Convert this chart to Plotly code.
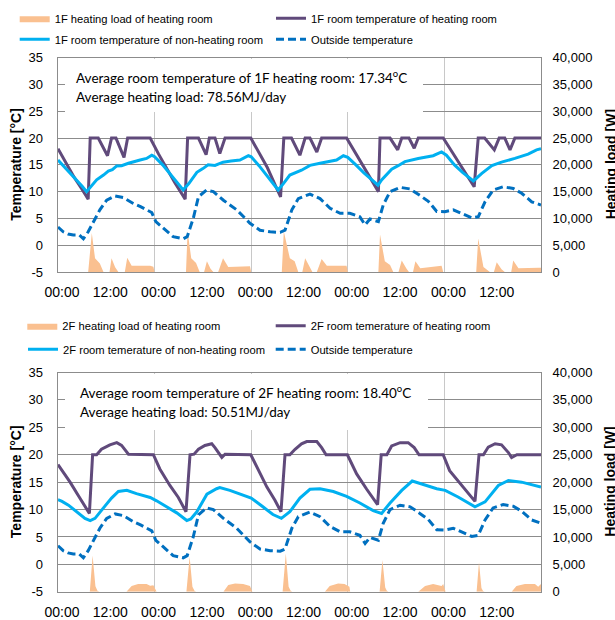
import plotly.graph_objects as go

W, H = 615, 620

def fx(px):
    return px / W

def fy(py):
    return 1 - py / H

# ---------------- data ----------------
tick_hours = [1, 13, 25, 37, 49, 61, 73, 85, 97, 109]
tick_text = ["00:00", "12:00", "00:00", "12:00", "00:00", "12:00", "00:00", "12:00", "00:00", "12:00"]
day_bounds = [24, 48, 72, 96]
temp_ticks = [-5, 0, 5, 10, 15, 20, 25, 30, 35]
temp_tick_text = ["-5", "0", "5", "10", "15", "20", "25", "30", "35"]

# Outside temperature (same for both floors)
out_h = [0, 1.3, 2.5, 3.8, 5.3, 6.3, 7.5, 8.8, 10.4, 12.1, 14.2, 16.2, 18.7, 20.5, 22, 23.3,
         24.3, 26.2, 28.6, 31.1, 32.1, 33.6, 34.9, 36.9, 38.6, 41.1, 44.4, 47.7, 50.2, 52.7,
         55.2, 56.4, 58.1, 59.7, 62.6, 65.1, 67.6, 70.1, 72.5, 75, 76.3, 77.5, 79.6, 80.8,
         82.5, 85, 87.5, 89.9, 92, 94.1, 96.1, 98.2, 100.3, 102.8, 104.4, 106.1, 108.1,
         110.6, 113.1, 115.2, 117.7, 120]
out_t = [3.4, 2.5, 2.1, 1.9, 1.9, 1.2, 2.5, 4.4, 6.6, 8.4, 9.2, 8.9, 7.8, 7.2, 6.6, 6.1,
         4.4, 3.15, 1.6, 1.2, 1.6, 5.0, 9.05, 10.3, 10.0, 8.4, 6.6, 4.1, 2.8, 2.5,
         2.4, 2.8, 6.6, 8.7, 9.55, 8.7, 6.9, 5.95, 5.95, 5.3, 3.8, 4.9, 4.4, 7.5,
         10.0, 10.8, 10.5, 9.3, 8.2, 6.3, 6.25, 6.6, 5.95, 5.1, 5.3, 8.1, 10.3,
         10.9, 10.6, 9.7, 8.1, 7.5]

# 1F heating load of heating room [W]
f1_load_h = [0, 7.5, 8.4, 9.2, 10.4, 11.3, 12.8, 13.3, 14.2, 15.0, 16.6, 17.2, 18.3, 22.9, 23.7, 24.0,
             31.8, 32.2, 33.1, 34.3, 35.2, 36.3, 37.0, 37.9, 38.6, 39.8, 41.0, 42.3, 47.7, 48.0,
             55.6, 56.1, 57.6, 58.8, 59.7, 60.7, 61.4, 62.5, 63.2, 64.3, 65.5, 66.8, 71.7, 72.0,
             79.6, 80.0, 81.2, 82.5, 83.3, 84.6, 85.4, 86.6, 87.2, 88.2, 88.8, 90.0, 95.3, 95.7,
             103.9, 104.4, 105.7, 107.3, 108.3, 109.0, 110.2, 111.0, 112.6, 113.1, 114.4, 119.4, 120]
f1_load_w = [0, 0, 7300, 2550, 1600, 0, 0, 2550, 900, 0, 0, 2650, 1150, 1150, 1000, 0,
             0, 7600, 2550, 1700, 0, 0, 2000, 600, 0, 0, 2550, 950, 1050, 0,
             0, 7600, 2550, 2000, 0, 0, 2550, 930, 0, 0, 2420, 1180, 1180, 0,
             0, 7000, 2000, 1300, 0, 0, 2150, 600, 0, 0, 2000, 700, 1180, 0,
             0, 6250, 930, 0, 0, 1800, 500, 0, 0, 2150, 700, 800, 800]

# 1F room temperature of heating room
f1_heat_h = [0, 2, 4, 6, 7.5, 8.0, 10.0, 12.3, 13.3, 14.4, 16.4, 17.3, 22.9,
             25, 27, 29, 31.6, 32.2, 34.9, 36.8, 37.6, 39.0, 40.2, 41.5, 47.9,
             50, 52, 55.3, 56.1, 58.0, 60.1, 61.4, 62.6, 64.3, 65.5, 71.7,
             74, 76, 79.6, 80.0, 82.5, 84.4, 85.4, 87.2, 88.5, 89.5, 95.7,
             98, 100, 103.4, 104.4, 106.0, 108.4, 109.6, 111.0, 112.3, 113.5, 120]
f1_heat_t = [18.0, 15.3, 12.7, 10.4, 8.6, 20, 20, 16.7, 20, 20, 16.4, 20, 20,
             17.0, 14.3, 11.7, 8.6, 20, 20, 16.9, 20, 20, 17.1, 20, 20,
             17.2, 14.5, 9.0, 20, 20, 16.8, 20, 20, 17.4, 20, 20,
             17.1, 14.6, 10.0, 20, 20, 17.8, 20, 20, 18.1, 20, 20,
             17.3, 14.9, 10.9, 20, 20, 17.8, 20, 20, 17.8, 20, 20]

# 1F room temperature of non-heating room
f1_non_h = [0, 2, 4, 6, 7.1, 8.5, 9.6, 11.3, 12.5, 13.5, 14.6, 15.8, 17.5, 20.4, 22, 23.3,
            24, 26, 28, 30, 31.1, 32.5, 34.5, 36, 37.3, 39, 41, 43, 45.2, 47.3,
            48, 50, 52, 54.7, 56, 57.6, 60.5, 62.6, 65.1, 69.2, 70.9,
            72, 74, 76, 78, 79.5, 80.4, 82.9, 84.4, 86.2, 89.5, 93.2, 95.3,
            96.5, 98.5, 100.5, 103.2, 105.3, 107.8, 110.2, 113.5, 116.8, 118.9, 120]
f1_non_t = [15.9, 14.3, 12.7, 11.0, 10.0, 11.3, 12.2, 13.1, 13.85, 14.1, 14.8, 14.85, 15.3, 15.9, 16.2, 16.8,
            16.5, 15.0, 13.2, 11.3, 10.3, 11.5, 13.6, 14.3, 15.0, 14.9, 15.5, 15.7, 15.9, 16.7,
            16.5, 14.8, 12.9, 10.3, 11.5, 13.1, 14.0, 14.9, 15.3, 15.9, 16.7,
            16.4, 15.0, 13.5, 12.2, 11.2, 12.2, 14.2, 14.8, 15.6, 16.2, 16.7, 17.4,
            16.8, 15.0, 13.6, 12.0, 13.4, 14.85, 15.5, 16.2, 17.0, 17.8, 18.0]

# 2F heating load of heating room [W]
f2_load_h = [0, 7.9, 8.6, 9.3, 9.8, 10.3, 17.0, 18.3, 19.9, 22.0, 22.9, 23.7, 24.5,
             31.9, 32.7, 33.4, 33.9, 34.3, 41.1, 42.3, 44.0, 46.0, 47.7, 48.3,
             55.8, 56.6, 57.3, 57.8, 58.2, 66.3, 67.5, 69.6, 71.2, 72.4, 72.6,
             79.9, 80.6, 81.3, 81.7, 82.1, 89.5, 91.2, 93.2, 95.3, 95.7, 96.3,
             104.0, 104.6, 105.2, 105.6, 106.0, 112.7, 113.9, 116.0, 118.5, 119.3, 120]
f2_load_w = [0, 0, 6600, 1000, 200, 0, 0, 1050, 1400, 1400, 1100, 1200, 0,
             0, 6400, 900, 200, 0, 0, 1230, 1500, 1400, 1050, 0,
             0, 7000, 900, 200, 0, 0, 1050, 1500, 1400, 900, 0,
             0, 5800, 800, 200, 0, 0, 1050, 1400, 1050, 1400, 0,
             0, 5400, 700, 150, 0, 0, 1050, 1400, 1400, 900, 1400]

# 2F room temperature of heating room
f2_heat_h = [0, 3, 5, 7.8, 8.6, 9.6, 10.8, 12.9, 14.6, 15.8, 17.5, 23.7,
             25.3, 27.8, 29.9, 31.8, 32.8, 33.8, 34.9, 36.5, 38.2, 39.0, 40.7, 41.5, 47.9,
             49.4, 51.9, 53.9, 55.4, 56.4, 57.6, 58.9, 60.5, 61.8, 64.3, 65.5, 66.6, 71.9,
             74.2, 76.7, 79.4, 80.3, 81.7, 82.9, 85.0, 87.0, 88.5, 89.7, 95.7,
             97.3, 99.4, 101.5, 103.6, 104.6, 105.7, 106.9, 108.6, 110.2, 111.9, 112.7, 114.0, 120]
f2_heat_t = [18.2, 15.0, 12.6, 9.3, 20, 20, 21.0, 21.8, 22.2, 21.7, 20.1, 20,
             17.4, 14.4, 12.2, 9.6, 20, 20.1, 21.0, 21.7, 22.0, 21.3, 19.5, 20.1, 20,
             17.7, 14.1, 11.7, 9.6, 20, 20, 21.0, 22.0, 22.4, 22.4, 21.3, 20, 20,
             16.5, 13.7, 10.9, 20, 20, 21.6, 22.2, 22.2, 21.3, 20, 20,
             17.1, 15.3, 13.5, 11.5, 20, 20, 21.4, 22.0, 21.8, 20.4, 19.5, 20, 20]

# 2F room temperature of non-heating room
f2_non_h = [0, 1, 2.6, 4.6, 6.7, 8, 9.2, 11.3, 13.3, 15, 17.1, 19.5, 22.9, 24.5, 27, 29.5, 32,
            33, 34.5, 35.5, 37, 39.4, 40.2, 42.7, 46, 48, 50.9, 53.4, 55.5, 57.6, 60.1, 62.6,
            65.1, 68.4, 71.7, 75, 78.3, 80.4, 82.5, 85.4, 88, 91.2, 94.1, 96.2, 99.4, 103.6,
            106.1, 109.4, 111.9, 115.2, 120]
f2_non_t = [11.8, 11.5, 10.8, 9.6, 8.4, 8.0, 8.4, 10.3, 12.1, 13.3, 13.5, 12.9, 12.2, 11.6, 10.5, 9.4, 8.0,
            8.3, 9.6, 10.8, 12.8, 13.8, 14.0, 13.5, 12.6, 12.1, 10.5, 9.1, 8.4, 9.6, 12.1, 13.7,
            13.8, 13.3, 12.4, 11.2, 9.8, 9.3, 11.2, 13.5, 15.2, 14.4, 13.8, 13.5, 12.3, 10.5,
            11.4, 14.4, 15.3, 15.0, 14.1]

names_1f = ["1F heating load of heating room", "1F room temperature of heating room",
            "1F room temperature of non-heating room", "Outside temperature"]
names_2f = ["2F heating load of heating room", "2F room temerature of heating room",
            "2F room temerature of non-heating room", "Outside temperature"]
note_1f = ["Average room temperature of 1F heating room: 17.34<sup>o</sup>C",
           "Average heating load: 78.56MJ/day"]
note_2f = ["Average room temperature of 2F heating room: 18.40<sup>o</sup>C",
           "Average heating load: 50.51MJ/day"]

# ---------------- style ----------------
LOAD_C = "#FAC090"
HEAT_C = "#604A7B"
NON_C = "#00B0F0"
OUT_C = "#0070C0"
GRID_H = "#8C8C8C"
GRID_V = "#C8C8C8"
YTICK_FONT = dict(family="Arial", size=13, color="#000000")
XTICK_FONT = dict(family="Arial", size=14, color="#000000")
LEG_FONT = dict(family="Arial", size=11.2, color="#000000")
NOTE_FONT = dict(family="Lato", size=13.5, color="#000000")

fig = go.Figure()

panels = [
    dict(xa="x", ya="y", ta="y2",
         load=(f1_load_h, f1_load_w), heat=(f1_heat_h, f1_heat_t), non=(f1_non_h, f1_non_t),
         names=names_1f, legs=["legend", "legend2", "legend3", "legend4"]),
    dict(xa="x2", ya="y3", ta="y4",
         load=(f2_load_h, f2_load_w), heat=(f2_heat_h, f2_heat_t), non=(f2_non_h, f2_non_t),
         names=names_2f, legs=["legend5", "legend6", "legend7", "legend8"]),
]

for p in panels:
    fig.add_trace(go.Scatter(x=p["load"][0], y=p["load"][1], xaxis=p["xa"], yaxis=p["ya"],
                             mode="lines", fill="tozeroy", fillcolor=LOAD_C,
                             line=dict(width=0, color=LOAD_C), name=p["names"][0],
                             legend=p["legs"][0], showlegend=True, hoverinfo="skip"))
    fig.add_trace(go.Scatter(x=p["heat"][0], y=p["heat"][1], xaxis=p["xa"], yaxis=p["ta"],
                             mode="lines", line=dict(width=3, color=HEAT_C),
                             name=p["names"][1], legend=p["legs"][1], showlegend=True))
    fig.add_trace(go.Scatter(x=p["non"][0], y=p["non"][1], xaxis=p["xa"], yaxis=p["ta"],
                             mode="lines", line=dict(width=3, color=NON_C),
                             name=p["names"][2], legend=p["legs"][2], showlegend=True))
    fig.add_trace(go.Scatter(x=out_h, y=out_t, xaxis=p["xa"], yaxis=p["ta"],
                             mode="lines", line=dict(width=3, color=OUT_C, dash="8px,4px"),
                             name=p["names"][3], legend=p["legs"][3], showlegend=True))

# plot areas in pixels
XL, XR = 58, 541
TOP = (57.7, 272.0)
BOT = (372.5, 591.8)

def xaxis_cfg(anchor):
    return dict(domain=[fx(XL), fx(XR)], range=[0, 120], anchor=anchor,
                tickmode="array", tickvals=tick_hours, ticktext=tick_text,
                showgrid=False, zeroline=False, showline=True, linecolor=GRID_H,
                linewidth=1, mirror=True, ticks="", tickfont=XTICK_FONT,
                ticklabelstandoff=7, automargin=False,
                minor=dict(tickvals=day_bounds, showgrid=True, gridcolor=GRID_V,
                           gridwidth=1, ticks=""))

def load_cfg(anchor, dom):
    return dict(domain=[fy(dom[1]), fy(dom[0])], range=[0, 40000], dtick=5000,
                tick0=0, anchor=anchor, side="right", tickformat=",",
                showgrid=True, gridcolor=GRID_H, gridwidth=1, zeroline=False,
                showline=True, linecolor=GRID_H, mirror=True, ticks="",
                tickfont=YTICK_FONT, ticklabelstandoff=8, automargin=False)

def temp_cfg(anchor, over):
    return dict(range=[-5, 35], tickmode="array", tickvals=temp_ticks, ticktext=temp_tick_text,
                anchor=anchor, overlaying=over,
                side="left", showgrid=False, zeroline=False, showline=False,
                ticks="", tickfont=YTICK_FONT, ticklabelstandoff=14, automargin=False)

fig.update_layout(
    width=W, height=H, showlegend=True,
    margin=dict(l=0, r=0, t=0, b=0, autoexpand=False),
    paper_bgcolor="white", plot_bgcolor="white",
    xaxis=xaxis_cfg("y"), yaxis=load_cfg("x", TOP), yaxis2=temp_cfg("x", "y"),
    xaxis2=xaxis_cfg("y3"), yaxis3=load_cfg("x2", BOT), yaxis4=temp_cfg("x2", "y3"),
)

# legends: one legend per entry for exact placement (symbol start px, centre y px)
leg_pos = {
    "legend": (21.7, 18.3), "legend2": (278, 18.3), "legend3": (21.7, 39.3), "legend4": (278, 39.3),
    "legend5": (29.3, 325.7), "legend6": (277.7, 325.7), "legend7": (30, 349.3), "legend8": (277.7, 349.3),
}
for key, (sx, cy) in leg_pos.items():
    fig.update_layout({key: dict(x=fx(sx - 7), y=fy(cy), xanchor="left", yanchor="middle",
                                 font=LEG_FONT, bgcolor="rgba(0,0,0,0)", borderwidth=0,
                                 itemwidth=30, orientation="v", visible=True)})

# white boxes behind the notes + notes
boxes = [(65, 59, 423, 112), (65, 374, 428, 430)]
for (x0, y0, x1, y1) in boxes:
    fig.add_shape(type="rect", xref="paper", yref="paper", x0=fx(x0), x1=fx(x1),
                  y0=fy(y1), y1=fy(y0), fillcolor="white", line=dict(width=0), layer="above")

note_pos = [(74, 77.3, 97.0, note_1f), (78.3, 392.3, 412.3, note_2f)]
for (nx, y1, y2, lines) in note_pos:
    for yy, txt in zip((y1, y2), lines):
        fig.add_annotation(xref="paper", yref="paper", x=fx(nx), y=fy(yy), xanchor="left",
                           yanchor="middle", text=txt, showarrow=False, font=NOTE_FONT)

# axis titles
TITLE_FONT = dict(family="Arial", size=14, color="#000000")
for cy in ((TOP[0] + TOP[1]) / 2, (BOT[0] + BOT[1]) / 2):
    fig.add_annotation(xref="paper", yref="paper", x=fx(16), y=fy(cy), xanchor="center",
                       yanchor="middle", text="<b>Temperature [°C]</b>", textangle=-90,
                       showarrow=False, font=TITLE_FONT)
    fig.add_annotation(xref="paper", yref="paper", x=fx(610.5), y=fy(cy), xanchor="center",
                       yanchor="middle", text="<b>Heating load [W]</b>", textangle=-90,
                       showarrow=False, font=TITLE_FONT)

# remove the browser's default page margin so the 615x620 figure fills the window exactly
fig.write_html("out.html",
               config={"displayModeBar": False},
               post_script="document.body.style.margin='0px';document.body.style.overflow='hidden';")
